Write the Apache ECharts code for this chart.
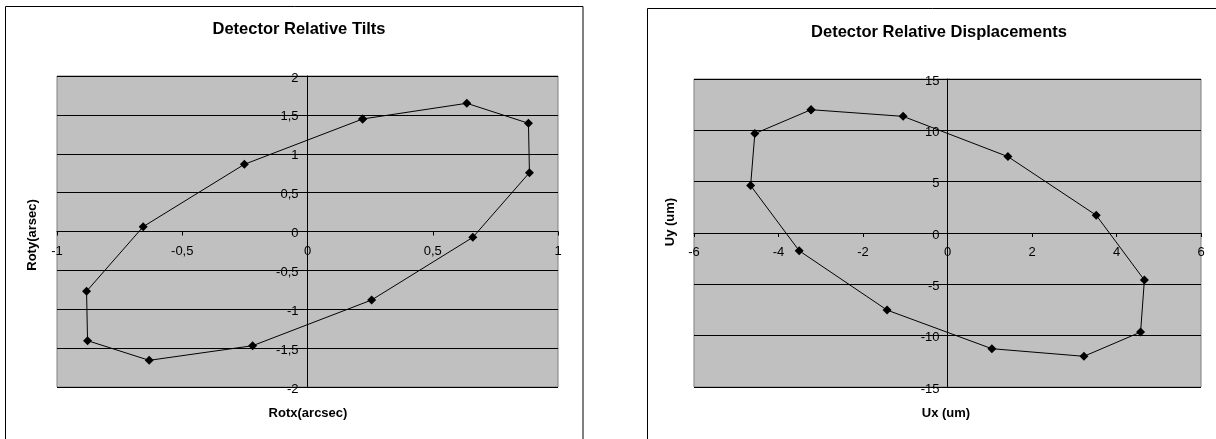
<!DOCTYPE html>
<html>
<head>
<meta charset="utf-8">
<script src="https://cdn.jsdelivr.net/npm/echarts@6/dist/echarts.min.js"></script>
<style>
html,body{margin:0;padding:0;background:#fff;}
#c{width:1216px;height:439px;}
</style>
</head>
<body>
<div id="c"></div>
<script>
// ---- data ----
const tiltsTitle = 'Detector Relative Tilts';
const tiltsXName = 'Rotx(arcsec)';
const tiltsYName = 'Roty(arsec)';
const tiltsRotx = [0.22, 0.636, 0.882, 0.886, 0.660, 0.256, -0.219, -0.632, -0.878, -0.882, -0.656, -0.252, 0.22];
const tiltsRoty = [1.447, 1.649, 1.392, 0.757, -0.075, -0.881, -1.469, -1.657, -1.404, -0.769, 0.062, 0.864, 1.447];
const tiltsXRange = [-1, 1, 0.5];
const tiltsYRange = [-2, 2, 0.5];

const dispTitle = 'Detector Relative Displacements';
const dispXName = 'Ux (um)';
const dispYName = 'Uy (um)';
const dispUx = [-3.23, -1.05, 1.43, 3.52, 4.66, 4.57, 3.23, 1.05, -1.43, -3.51, -4.66, -4.56, -3.23];
const dispUy = [12.01, 11.36, 7.44, 1.73, -4.59, -9.65, -12.01, -11.27, -7.51, -1.73, 4.62, 9.68, 12.01];
const dispXRange = [-6, 6, 2];
const dispYRange = [-15, 15, 5];

// ---- layout ----
const FONT = '"Liberation Sans", Arial, sans-serif';
const grids = [
  { left: 57, top: 76, width: 501, height: 311 },
  { left: 694, top: 79, width: 507, height: 308 }
];
const fmt = v => String(Math.round(v * 100) / 100).replace('.', ',');

// offset that moves an edge axis onto the other axis' zero
function zeroFrac(r) { return (0 - r[0]) / (r[1] - r[0]); }

function xAxisOf(idx, r, yr, margin) {
  const g = grids[idx];
  const off = -(zeroFrac(yr) * g.height);
  return {
    type: 'value', gridIndex: idx, min: r[0], max: r[1], interval: r[2],
    position: 'bottom', offset: off,
    axisLine: { show: true, onZero: false, lineStyle: { color: '#000', width: 1 } },
    axisTick: { show: true, length: 4, lineStyle: { color: '#000' } },
    axisLabel: { color: '#000', fontSize: 13, fontFamily: FONT, margin: margin, formatter: fmt },
    splitLine: { show: false }
  };
}
function yAxisOf(idx, r, xr, margin) {
  const g = grids[idx];
  const off = -(zeroFrac(xr) * g.width);
  return {
    type: 'value', gridIndex: idx, min: r[0], max: r[1], interval: r[2],
    position: 'left', offset: off,
    axisLine: { show: true, onZero: false, lineStyle: { color: '#000', width: 1 } },
    axisTick: { show: true, length: 4, lineStyle: { color: '#000' } },
    axisLabel: { color: '#000', fontSize: 13, fontFamily: FONT, margin: margin, formatter: fmt,
      verticalAlign: 'top', lineHeight: 4 },
    splitLine: { show: true, lineStyle: { color: '#000', width: 1 } }
  };
}
function seriesOf(idx, xs, ys) {
  return {
    type: 'line', xAxisIndex: idx, yAxisIndex: idx,
    data: xs.map((x, i) => [x, ys[i]]),
    symbol: 'diamond', symbolSize: 9,
    itemStyle: { color: '#000' },
    lineStyle: { color: '#000', width: 1 },
    animation: false, silent: true
  };
}

const chart = echarts.init(document.getElementById('c'), null, { renderer: 'canvas' });
chart.setOption({
  backgroundColor: '#fff',
  animation: false,
  title: [
    { text: tiltsTitle, left: 294, top: 16, textAlign: 'center',
      textStyle: { fontSize: 16.5, fontWeight: 'bold', color: '#000', fontFamily: FONT } },
    { text: dispTitle, left: 934, top: 19, textAlign: 'center',
      textStyle: { fontSize: 16.5, fontWeight: 'bold', color: '#000', fontFamily: FONT } }
  ],
  grid: grids.map(g => Object.assign({ show: true, backgroundColor: '#c0c0c0', borderColor: '#808080', borderWidth: 1 }, g)),
  xAxis: [xAxisOf(0, tiltsXRange, tiltsYRange, 13), xAxisOf(1, dispXRange, dispYRange, 13)],
  yAxis: [yAxisOf(0, tiltsYRange, tiltsXRange, 9), yAxisOf(1, dispYRange, dispXRange, 8)],
  series: [seriesOf(0, tiltsRotx, tiltsRoty), seriesOf(1, dispUx, dispUy)],
  graphic: [
    { type: 'rect', shape: { x: 5.5, y: 6.5, width: 577.5, height: 600 }, style: { fill: 'none', stroke: '#000', lineWidth: 1 }, z: 0 },
    { type: 'rect', shape: { x: 647.5, y: 8.5, width: 600, height: 600 }, style: { fill: 'none', stroke: '#000', lineWidth: 1 }, z: 0 },
    { type: 'text', x: 308, y: 413, style: { text: tiltsXName, fill: '#000', font: 'bold 13px ' + FONT, align: 'center', verticalAlign: 'middle' } },
    { type: 'text', x: 32, y: 235, rotation: Math.PI / 2, style: { text: tiltsYName, fill: '#000', font: 'bold 13px ' + FONT, align: 'center', verticalAlign: 'middle' } },
    { type: 'text', x: 946, y: 413, style: { text: dispXName, fill: '#000', font: 'bold 13px ' + FONT, align: 'center', verticalAlign: 'middle' } },
    { type: 'text', x: 670, y: 222, rotation: Math.PI / 2, style: { text: dispYName, fill: '#000', font: 'bold 13px ' + FONT, align: 'center', verticalAlign: 'middle' } }
  ]
});
</script>
</body>
</html>
